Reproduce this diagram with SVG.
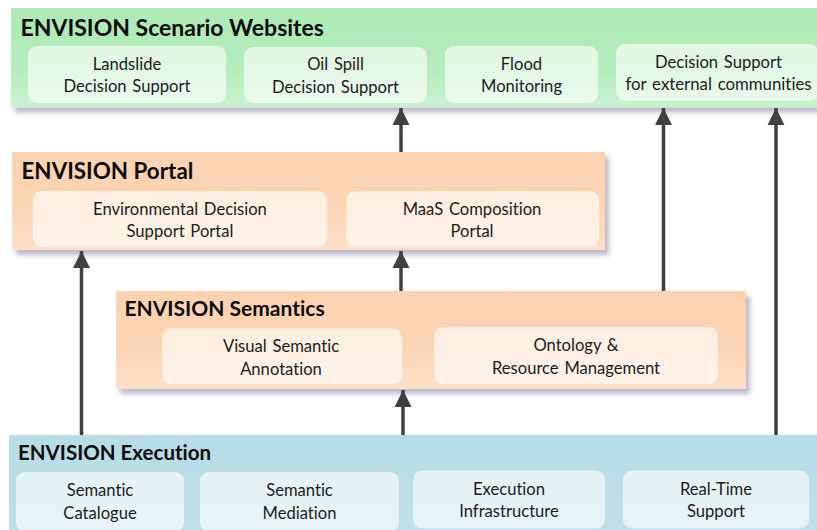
<svg xmlns="http://www.w3.org/2000/svg" width="817" height="530" viewBox="0 0 817 530">
<style>
text{font-family:"Lato","Open Sans",sans-serif;fill:#1c1c1c;font-variant-ligatures:none}
.t{font-size:21px;font-weight:700;fill:#0c0c0c}
.l{font-size:16.6px;text-anchor:middle;word-spacing:1.5px}
.i{fill:#fff;fill-opacity:.62}
.c{stroke:#404040;stroke-width:3.5;fill:none;marker-end:url(#a)}
</style>
<defs>
<linearGradient id="g" x1="0" y1="0" x2="0" y2="1"><stop offset="0" stop-color="#aeebb6"/><stop offset=".6" stop-color="#b4ecbb"/><stop offset="1" stop-color="#cbf2d0"/></linearGradient>
<linearGradient id="o" x1="0" y1="0" x2="0" y2="1"><stop offset="0" stop-color="#fcd3b1"/><stop offset=".6" stop-color="#fcd5b6"/><stop offset="1" stop-color="#fde0c8"/></linearGradient>
<linearGradient id="b" x1="0" y1="0" x2="0" y2="1"><stop offset="0" stop-color="#b7dce6"/><stop offset="1" stop-color="#bfe0e9"/></linearGradient>
<filter id="sh" x="-5%" y="-10%" width="110%" height="125%"><feGaussianBlur in="SourceAlpha" stdDeviation="2.500" result="bl"/><feOffset in="bl" dx="3.500" dy="4.500" result="of"/><feFlood flood-color="#5a5080" flood-opacity=".4"/><feComposite in2="of" operator="in"/><feMerge><feMergeNode/><feMergeNode in="SourceGraphic"/></feMerge></filter>
<marker id="a" markerUnits="userSpaceOnUse" markerWidth="18" markerHeight="18" refX="17" refY="9" orient="auto"><path d="M0 0.500L17 9L0 17.500Z" fill="#404040"/></marker>
</defs>

<g id="execution">
<rect x="9" y="435" width="808" height="95" fill="url(#b)"/>
<text class="t" x="18" y="460" style="font-size:20.500px">ENVISION Execution</text>
<g id="semantic-catalogue"><rect class="i" x="16" y="472" width="168" height="60" rx="9"/><text class="l" x="100" y="496">Semantic</text><text class="l" x="100" y="519">Catalogue</text></g>
<g id="semantic-mediation"><rect class="i" x="200" y="472" width="199" height="60" rx="9"/><text class="l" x="299.500" y="496">Semantic</text><text class="l" x="299.500" y="519">Mediation</text></g>
<g id="execution-infrastructure"><rect class="i" x="413" y="470.500" width="192" height="58" rx="9"/><text class="l" x="509" y="494.500">Execution</text><text class="l" x="509" y="517">Infrastructure</text></g>
<g id="real-time-support"><rect class="i" x="623" y="470.500" width="186" height="58" rx="9"/><text class="l" x="716" y="494.500">Real-Time</text><text class="l" x="716" y="517">Support</text></g>
</g>

<g id="scenario-websites">
<rect x="11" y="8" width="806" height="99.500" fill="url(#g)" filter="url(#sh)"/>
<text class="t" x="20.500" y="36" style="font-size:23px">ENVISION Scenario Websites</text>
<g id="landslide"><rect class="i" x="28" y="46" width="198" height="57" rx="9"/><text class="l" x="127" y="69.500">Landslide</text><text class="l" x="127" y="92">Decision Support</text></g>
<g id="oil-spill"><rect class="i" x="244" y="47" width="183" height="56" rx="9"/><text class="l" x="335.500" y="70">Oil Spill</text><text class="l" x="335.500" y="93">Decision Support</text></g>
<g id="flood"><rect class="i" x="445" y="46" width="153" height="57" rx="9"/><text class="l" x="521.500" y="69.500">Flood</text><text class="l" x="521.500" y="92">Monitoring</text></g>
<g id="external"><rect class="i" x="616" y="44" width="203" height="57" rx="9"/><text class="l" x="718.500" y="67.500">Decision Support</text><text class="l" x="718.500" y="90" style="font-size:16.800px">for external communities</text></g>
</g>

<g id="portal">
<rect x="12" y="152" width="593" height="98" fill="url(#o)" filter="url(#sh)"/>
<text class="t" x="21.500" y="179" style="font-size:22.400px">ENVISION Portal</text>
<g id="env-portal"><rect class="i" x="33" y="191" width="294" height="56" rx="9"/><text class="l" x="180" y="214.500">Environmental Decision</text><text class="l" x="180" y="237">Support Portal</text></g>
<g id="maas-portal"><rect class="i" x="346" y="191" width="253" height="56" rx="9"/><text class="l" x="472" y="214.500">MaaS Composition</text><text class="l" x="472" y="237">Portal</text></g>
</g>

<g id="semantics">
<rect x="116" y="291" width="630" height="98" fill="url(#o)" filter="url(#sh)"/>
<text class="t" x="124.500" y="316">ENVISION Semantics</text>
<g id="visual-annotation"><rect class="i" x="162" y="328.500" width="240" height="55.500" rx="9"/><text class="l" x="281" y="352">Visual Semantic</text><text class="l" x="281" y="374.500">Annotation</text></g>
<g id="ontology"><rect class="i" x="434" y="327" width="284" height="57" rx="9"/><text class="l" x="576" y="351">Ontology &amp;</text><text class="l" x="576" y="373.500">Resource Management</text></g>
</g>

<g id="connectors">
<line class="c" x1="401" y1="152" x2="401" y2="108"/>
<line class="c" x1="663.500" y1="291" x2="663.500" y2="108"/>
<line class="c" x1="776" y1="435" x2="776" y2="108"/>
<line class="c" x1="81.500" y1="435" x2="81.500" y2="251"/>
<line class="c" x1="401" y1="291" x2="401" y2="251"/>
<line class="c" x1="403" y1="435" x2="403" y2="390"/>
</g>
</svg>
